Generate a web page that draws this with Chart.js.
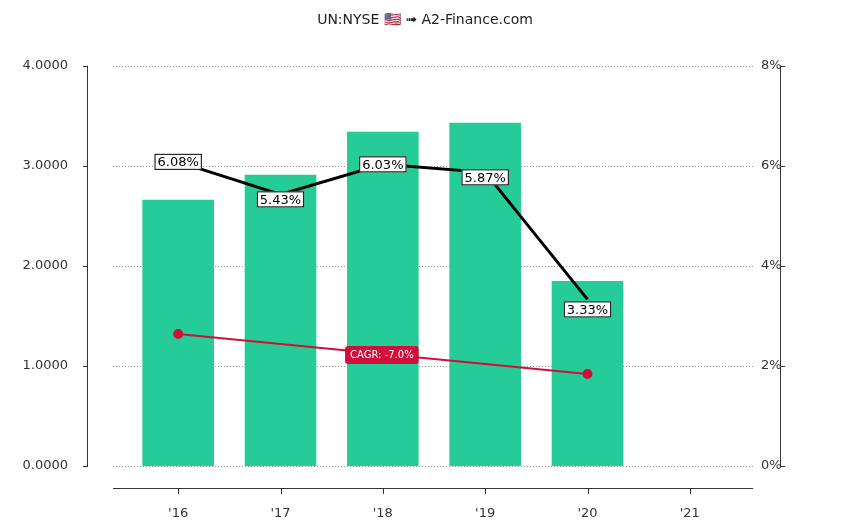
<!DOCTYPE html>
<html>
<head>
<meta charset="utf-8">
<script src="https://cdn.jsdelivr.net/npm/chart.js@4"></script>
<style>
  body { margin: 0; background: #fff; }
  #wrap { width: 850px; height: 526px; }
</style>
</head>
<body>
<div id="wrap"><canvas id="grafico"></canvas></div>
<script>
const anos = ["'16", "'17", "'18", "'19", "'20", "'21"];
const valores = [2.66, 2.91, 3.34, 3.43, 1.85, null];
const yieldPct = [6.08, 5.43, 6.03, 5.87, 3.33, null];
const cagrLinha = [1.32, null, null, null, 0.92, null];
const cagrTexto = "CAGR: -7.0%";
const fonte = "DejaVu Sans";

const extras = {
  id: "extras",
  beforeDatasetsDraw(chart) {
    const c = chart.ctx, y = chart.scales.y;
    c.save();
    c.strokeStyle = "#999"; c.lineWidth = 1; c.setLineDash([1, 2]);
    y.ticks.forEach(t => {
      const py = Math.round(y.getPixelForValue(t.value)) + 0.5;
      c.beginPath(); c.moveTo(113, py); c.lineTo(753, py); c.stroke();
    });
    c.setLineDash([]); c.strokeStyle = "#333";
    c.beginPath(); c.moveTo(87.5, y.top); c.lineTo(87.5, y.bottom); c.stroke();
    c.beginPath(); c.moveTo(780.5, y.top); c.lineTo(780.5, y.bottom); c.stroke();
    y.ticks.forEach(t => {
      const py = Math.round(y.getPixelForValue(t.value)) + 0.5;
      c.beginPath(); c.moveTo(83, py); c.lineTo(88, py); c.stroke();
      c.beginPath(); c.moveTo(780, py); c.lineTo(785, py); c.stroke();
    });
    c.beginPath(); c.moveTo(113, 488.5); c.lineTo(753, 488.5); c.stroke();
    const x = chart.scales.x;
    anos.forEach((a, i) => {
      const px = Math.round(x.getPixelForValue(i)) + 0.5;
      c.beginPath(); c.moveTo(px, 488); c.lineTo(px, 494); c.stroke();
    });
    c.restore();
  },
  afterDatasetsDraw(chart) {
    const c = chart.ctx;
    c.save();
    c.font = "13px " + fonte; c.textAlign = "center"; c.textBaseline = "middle";
    const meta = chart.getDatasetMeta(1);
    meta.data.forEach((p, i) => {
      if (yieldPct[i] == null) return;
      const txt = yieldPct[i].toFixed(2) + "%";
      const w = c.measureText(txt).width + 6;
      const cy = i === 4 ? p.y + 10 : p.y + (i % 2 ? 5 : 0);
      c.fillStyle = "#fff"; c.strokeStyle = "#000"; c.lineWidth = 1;
      c.fillRect(p.x - w / 2, cy - 8, w, 16);
      c.strokeRect(p.x - w / 2 + 0.5, cy - 7.5, w - 1, 15);
      c.fillStyle = "#000"; c.fillText(txt, p.x, cy + 1);
    });
    const m2 = chart.getDatasetMeta(2);
    const a = m2.data[0], b = m2.data[4];
    const mx = (a.x + b.x) / 2 - 1, my = (a.y + b.y) / 2 + 1;
    c.font = "10px " + fonte;
    const w = c.measureText(cagrTexto).width + 10;
    c.fillStyle = "#d0103a";
    c.beginPath(); c.roundRect(mx - w / 2, my - 9, w, 18, 3); c.fill();
    c.fillStyle = "#fff"; c.fillText(cagrTexto, mx, my);
    c.restore();
  }
};

new Chart(document.getElementById("grafico"), {
  type: "bar",
  data: {
    labels: anos,
    datasets: [
      { type: "bar", data: valores, backgroundColor: "#26cc98", yAxisID: "y",
        barPercentage: 0.7, categoryPercentage: 1, order: 3 },
      { type: "line", data: yieldPct, borderColor: "#000", borderWidth: 3,
        pointRadius: 0, yAxisID: "y2", order: 1 },
      { type: "line", data: cagrLinha, borderColor: "#d0103a", backgroundColor: "#d0103a",
        borderWidth: 2, pointRadius: [4, 0, 0, 0, 4, 0], spanGaps: true, yAxisID: "y", order: 2 }
    ]
  },
  options: {
    responsive: true, maintainAspectRatio: false, animation: false,
    layout: { padding: { top: 0, bottom: 0, left: 0, right: 0 } },
    plugins: {
      legend: { display: false }, tooltip: { enabled: false },
      title: { display: true, text: "UN:NYSE 🇺🇸 ➟ A2-Finance.com", color: "#222",
        font: { family: fonte, size: 14, weight: "normal" }, padding: { top: 12, bottom: 37 } }
    },
    scales: {
      x: {
        grid: { display: false }, border: { display: false },
        ticks: { color: "#333", font: { family: fonte, size: 13 }, padding: 32 },
        afterFit(s) { s.height = 60; }
      },
      y: {
        position: "left", min: 0, max: 4,
        grid: { display: false }, border: { display: false },
        ticks: { stepSize: 1, color: "#333", padding: 51, font: { family: fonte, size: 13 },
          callback: v => v.toFixed(4) },
        afterFit(s) { s.width = 127; }
      },
      y2: {
        position: "right", min: 0, max: 8,
        grid: { display: false }, border: { display: false },
        ticks: { stepSize: 2, color: "#333", padding: 12, font: { family: fonte, size: 13 },
          callback: v => v + "%" },
        afterFit(s) { s.width = 109; }
      }
    }
  },
  plugins: [extras]
});
</script>
</body>
</html>
